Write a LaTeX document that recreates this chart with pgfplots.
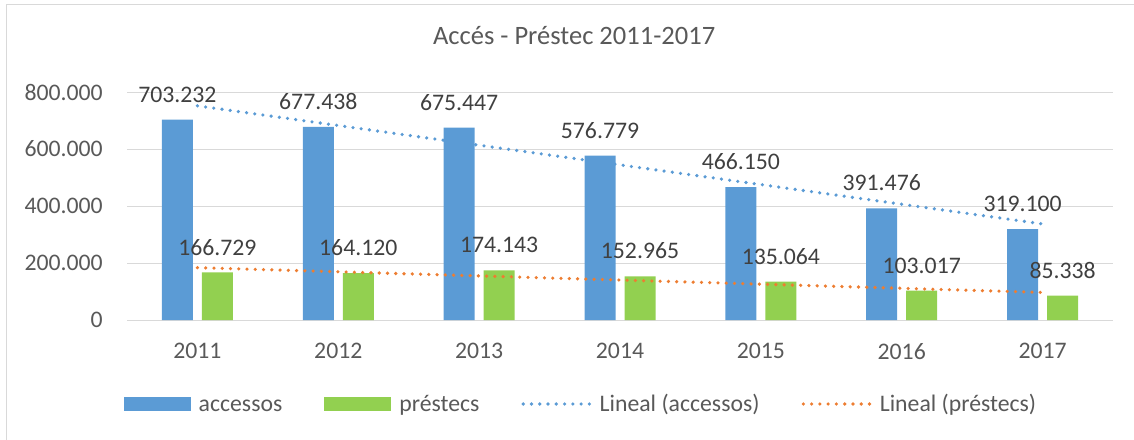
\documentclass[border=0pt]{standalone}
\usepackage{pgfplots}
\pgfplotsset{compat=1.18}
\usepackage{fontspec}
\setmainfont{Carlito}
\definecolor{cblue}{HTML}{5B9BD5}
\definecolor{cgreen}{HTML}{92D050}
\definecolor{corange}{HTML}{ED7D31}
\definecolor{cgrid}{HTML}{D9D9D9}
\definecolor{ctext}{HTML}{595959}
\definecolor{clabel}{HTML}{404040}
\newcommand{\lblfont}{\fontsize{17.8}{20}\selectfont}
\begin{document}
\begin{tikzpicture}
\useasboundingbox (-95.25pt,-89.25pt) rectangle (755.25pt,240pt);
\draw[cgrid, line width=0.75pt] (-90pt,-120pt) -- (-90pt,236.25pt) -- (790pt,236.25pt);
\begin{axis}[
 at={(0pt,0pt)}, anchor=south west,
 scale only axis, width=739.5pt, height=171pt,
 xmin=-0.5, xmax=6.5, ymin=0, ymax=800000,
 clip=false,
 axis line style={draw=none},
 major tick length=0pt,
 xtick={0,1,2,3,4,5,6},
 xticklabels={2011,2012,2013,2014,2015,2016,2017},
 ytick={0,200000,400000,600000,800000},
 yticklabels={0,200.000,400.000,600.000,800.000},
 scaled y ticks=false,
 ymajorgrids, grid style={cgrid, line width=0.75pt},
 tick label style={font=\lblfont, text=ctext, inner sep=0pt},
 xticklabel style={anchor=north, yshift=-17.25pt},
 yticklabel style={anchor=east, xshift=-18pt},
 title={Accés - Préstec 2011-2017},
 title style={at={(0.4534,1.2105)}, anchor=center, font=\fontsize{19.9}{22}\selectfont, text=ctext, inner sep=0pt},
 legend columns=4,
 legend cell align=left,
 legend style={at={(0.4594,-0.3684)}, anchor=center, draw=none, fill=none, font=\lblfont, text=ctext, inner sep=0pt,
   nodes={inner sep=0pt, text height=14.8pt, text depth=3.5pt},
   /tikz/every odd column/.append style={column sep=6pt},
   /tikz/every even column/.append style={column sep=31.5pt}},
 point meta=explicit symbolic,
]
\addplot[ybar, bar width=23.25pt, bar shift=-15pt, fill=cblue, draw=none,
  nodes near coords, nodes near coords style={font=\lblfont, text=clabel, anchor=south, inner sep=0pt, yshift=12.75pt, xshift=-15pt},
  legend image code/.code={\fill[cblue] (0pt,-5.25pt) rectangle (50.25pt,5.25pt);}]
  coordinates {(0,703232)[703.232] (1,677438)[677.438] (2,675447)[675.447] (3,576779)[576.779] (4,466150)[466.150] (5,391476)[391.476] (6,319100)[319.100]};
\addlegendentry{accessos}
\addplot[ybar, bar width=23.25pt, bar shift=15pt, fill=cgreen, draw=none,
  nodes near coords, nodes near coords style={font=\lblfont, text=clabel, anchor=south, inner sep=0pt, yshift=12.75pt, xshift=15pt},
  legend image code/.code={\fill[cgreen] (0pt,-5.25pt) rectangle (50.25pt,5.25pt);}]
  coordinates {(0,166729)[166.729] (1,164120)[164.120] (2,174143)[174.143] (3,152965)[152.965] (4,135064)[135.064] (5,103017)[103.017] (6,85338)[85.338]};
\addlegendentry{préstecs}
\addplot[cblue, line width=2.7pt, line cap=round, dash pattern=on 0pt off 6.2pt, mark=none,
  legend image code/.code={\draw[cblue, line width=2.7pt, line cap=round, dash pattern=on 0pt off 6.2pt] (1pt,0pt) -- (51pt,0pt);}]
  coordinates {(0,751406) (6,337058)};
\addlegendentry{Lineal (accessos)}
\addplot[corange, line width=2.7pt, line cap=round, dash pattern=on 0pt off 6.2pt, mark=none,
  legend image code/.code={\draw[corange, line width=2.7pt, line cap=round, dash pattern=on 0pt off 6.2pt] (1pt,0pt) -- (51pt,0pt);}]
  coordinates {(0,183638) (6,96755)};
\addlegendentry{Lineal (préstecs)}
\end{axis}
\end{tikzpicture}
\end{document}
